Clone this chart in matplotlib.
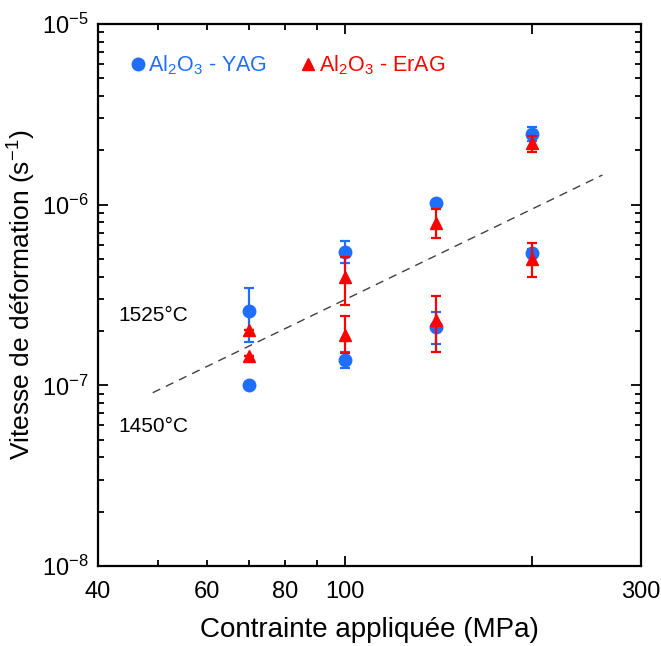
import numpy as np
import matplotlib
matplotlib.use("Agg")
import matplotlib.pyplot as plt
from matplotlib.ticker import FixedLocator, FixedFormatter, NullFormatter, LogLocator, LogFormatterMathtext
from matplotlib.lines import Line2D

plt.rcParams['font.family'] = ['Liberation Sans', 'DejaVu Sans']
plt.rcParams['mathtext.fontset'] = 'custom'
plt.rcParams['mathtext.rm'] = 'Liberation Sans'
plt.rcParams['mathtext.it'] = 'Liberation Sans:italic'
plt.rcParams['axes.unicode_minus'] = False

# ---- data ----
stress = [70, 100, 140, 200]

yag_low = [1.0e-7, 1.38e-7, 2.11e-7, 5.38e-7]
yag_low_lo = [1.0e-7, 1.25e-7, 1.69e-7, 5.1e-7]
yag_low_hi = [1.0e-7, 1.52e-7, 2.54e-7, 5.7e-7]

yag_high = [2.58e-7, 5.5e-7, 1.02e-6, 2.45e-6]
yag_high_lo = [1.73e-7, 4.74e-7, 1.02e-6, 2.25e-6]
yag_high_hi = [3.45e-7, 6.32e-7, 1.02e-6, 2.68e-6]

erag_low = [1.46e-7, 1.90e-7, 2.30e-7, 5.0e-7]
erag_low_lo = [1.46e-7, 1.51e-7, 1.52e-7, 3.97e-7]
erag_low_hi = [1.46e-7, 2.43e-7, 3.12e-7, 6.1e-7]

erag_high = [2.03e-7, 3.96e-7, 7.9e-7, 2.2e-6]
erag_high_lo = [2.03e-7, 2.79e-7, 6.57e-7, 1.96e-6]
erag_high_hi = [2.03e-7, 5.1e-7, 9.5e-7, 2.4e-6]

fit_x = [49, 260]
fit_y = [9.1e-8, 1.46e-6]

x_major = [100, 200]
x_minor = [40, 50, 60, 70, 80, 90, 300]
x_minor_labels = ['40', '', '60', '', '80', '', '300']
x_major_labels = ['100', '']

blue = '#1F6EFF'
red = '#FF0000'

fig = plt.figure(figsize=(6.61, 6.46), dpi=100)
ax = fig.add_axes([98/661, 1-566/646, 543/661, 542/646])
ax.set_xscale('log')
ax.set_yscale('log')
ax.set_xlim(40, 300)
ax.set_ylim(1e-8, 1e-5)

ax.plot(fit_x, fit_y, linestyle=(0, (6, 4.5)), color='#404040', lw=1.0, zorder=1)

def err(y, lo, hi):
    y = np.array(y); lo = np.array(lo); hi = np.array(hi)
    return np.vstack([y - lo, hi - y])

ekw = dict(fmt='o', ms=9, color=blue, ecolor=blue, elinewidth=1.6, capsize=3.5, capthick=1.6, zorder=3)
ax.errorbar(stress, yag_low, yerr=err(yag_low, yag_low_lo, yag_low_hi), **ekw)
ax.errorbar(stress, yag_high, yerr=err(yag_high, yag_high_lo, yag_high_hi), **ekw)
rkw = dict(fmt='^', ms=9, color=red, ecolor=red, elinewidth=1.6, capsize=3.5, capthick=1.6, zorder=4)
ax.errorbar(stress, erag_low, yerr=err(erag_low, erag_low_lo, erag_low_hi), **rkw)
ax.errorbar(stress, erag_high, yerr=err(erag_high, erag_high_lo, erag_high_hi), **rkw)

# ticks
ax.xaxis.set_major_locator(FixedLocator(x_major))
ax.xaxis.set_major_formatter(FixedFormatter(x_major_labels))
ax.xaxis.set_minor_locator(FixedLocator(x_minor))
ax.xaxis.set_minor_formatter(FixedFormatter(x_minor_labels))
ax.yaxis.set_major_locator(LogLocator(base=10, numticks=10))
ax.yaxis.set_major_formatter(LogFormatterMathtext())
ax.yaxis.set_minor_locator(LogLocator(base=10, subs=np.arange(2, 10), numticks=20))
ax.yaxis.set_minor_formatter(NullFormatter())

ax.tick_params(which='both', direction='in', top=True, right=True, width=1.3, labelsize=17, colors='black')
ax.tick_params(axis='x', which='both', pad=11)
ax.tick_params(axis='y', which='both', pad=7)
ax.tick_params(which='major', length=7)
ax.tick_params(which='minor', length=4)
for s in ax.spines.values():
    s.set_linewidth(1.6)

ax.set_xlabel('Contrainte appliquée (MPa)', fontsize=20, labelpad=10)
ax.set_ylabel('Vitesse de déformation (s$^{-1}$)', fontsize=19)
ax.yaxis.set_label_coords(-0.11, 0.5)

ax.text(0.037, 0.463, '1525°C', transform=ax.transAxes, fontsize=15, va='center', ha='left')
ax.text(0.037, 0.2565, '1450°C', transform=ax.transAxes, fontsize=15, va='center', ha='left')

handles = [Line2D([], [], marker='o', color=blue, ls='none', ms=9),
           Line2D([], [], marker='^', color=red, ls='none', ms=9)]
labels = [r'Al$_\mathregular{2}$O$_\mathregular{3}$ - YAG', r'Al$_\mathregular{2}$O$_\mathregular{3}$ - ErAG']
leg = ax.legend(handles, labels, loc='upper left', bbox_to_anchor=(0.045, 0.962), ncol=2, frameon=False,
                fontsize=15.5, handlelength=0.6, handletextpad=0.2, columnspacing=1.6, borderaxespad=0)
for t, c in zip(leg.get_texts(), [blue, red]):
    t.set_color(c)

fig.savefig('out.png', dpi=100)
